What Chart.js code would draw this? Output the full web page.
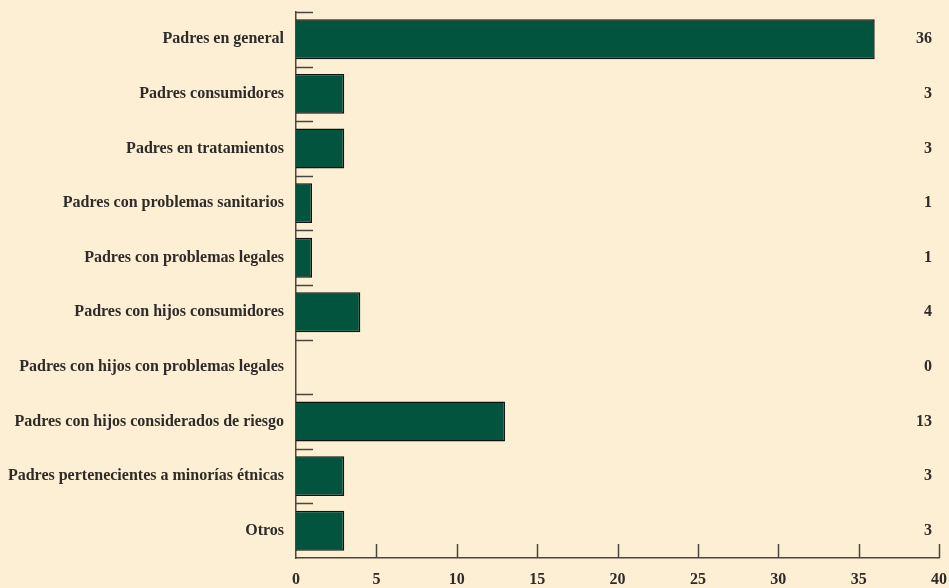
<!DOCTYPE html>
<html>
<head>
    <title>Padres destinatarios</title>
    <script src="https://cdn.jsdelivr.net/npm/chart.js@4/dist/chart.umd.min.js"></script>
    <style>
        html, body {
            margin: 0;
            padding: 0;
            background: #fdefd3;
        }
        .wrap {
            width: 949px;
            height: 588px;
        }
    </style>
</head>
<body>
    <div class="wrap">
        <canvas id="grupos"></canvas>
    </div>

    <script>
        const categorias = [
            'Padres en general',
            'Padres consumidores',
            'Padres en tratamientos',
            'Padres con problemas sanitarios',
            'Padres con problemas legales',
            'Padres con hijos consumidores',
            'Padres con hijos con problemas legales',
            'Padres con hijos considerados de riesgo',
            'Padres pertenecientes a minorías étnicas',
            'Otros'
        ];
        const valores = [36, 3, 3, 1, 1, 4, 0, 13, 3, 3];
        const ejeX = { min: 0, max: 40, paso: 5 };

        const tinta = '#2e2b28';
        const fuente = { family: '"Liberation Serif", "DejaVu Serif", serif', size: 16, weight: 'bold' };

        // short inner ticks on both axes plus the value column on the right
        const marcas = {
            id: 'marcas',
            afterDraw(chart) {
                const ctx = chart.ctx;
                const area = chart.chartArea;
                const x = chart.scales.x;
                const y = chart.scales.y;
                const banda = (y.getPixelForValue(1) - y.getPixelForValue(0));

                ctx.save();
                ctx.strokeStyle = '#4a4640';
                ctx.lineWidth = 1.5;
                ctx.beginPath();
                categorias.forEach((c, i) => {
                    const py = Math.round(y.getPixelForValue(i) - banda / 2) + 0.5;
                    ctx.moveTo(area.left, py);
                    ctx.lineTo(area.left + 17, py);
                });
                for (let v = ejeX.min + ejeX.paso; v <= ejeX.max; v += ejeX.paso) {
                    const px = Math.round(x.getPixelForValue(v)) + 0.5;
                    ctx.moveTo(px, area.bottom);
                    ctx.lineTo(px, area.bottom - 14);
                }
                ctx.stroke();

                ctx.fillStyle = tinta;
                ctx.font = `${fuente.weight} ${fuente.size}px ${fuente.family}`;
                ctx.textAlign = 'right';
                ctx.textBaseline = 'middle';
                valores.forEach((v, i) => {
                    ctx.fillText(String(v), area.right - 7, y.getPixelForValue(i));
                });
                ctx.restore();
            }
        };

        new Chart(document.getElementById('grupos'), {
            type: 'bar',
            data: {
                labels: categorias,
                datasets: [{
                    data: valores,
                    backgroundColor: '#02543f',
                    borderColor: '#111111',
                    borderWidth: 1.5,
                    borderSkipped: 'start',
                    categoryPercentage: 1,
                    barPercentage: 0.73
                }]
            },
            options: {
                indexAxis: 'y',
                responsive: true,
                maintainAspectRatio: false,
                animation: false,
                layout: { padding: { top: 12, right: 10, left: 0, bottom: 0 } },
                plugins: {
                    legend: { display: false },
                    tooltip: { enabled: false }
                },
                scales: {
                    x: {
                        min: ejeX.min,
                        max: ejeX.max,
                        ticks: { stepSize: ejeX.paso, color: tinta, font: fuente, padding: 12, maxRotation: 0 },
                        grid: { display: false, drawTicks: false },
                        border: { display: true, color: '#4a4640', width: 1.5 },
                        afterFit(scale) {
                            scale.height = 30;
                            scale.paddingLeft = 0;
                            scale.paddingRight = 0;
                        }
                    },
                    y: {
                        ticks: { color: tinta, font: fuente, padding: 12, autoSkip: false },
                        grid: { display: false, drawTicks: false },
                        border: { display: true, color: '#4a4640', width: 1.5 },
                        afterFit(scale) {
                            scale.width = 296;
                            scale.paddingTop = 0;
                            scale.paddingBottom = 0;
                        }
                    }
                }
            },
            plugins: [marcas]
        });
    </script>
</body>
</html>
